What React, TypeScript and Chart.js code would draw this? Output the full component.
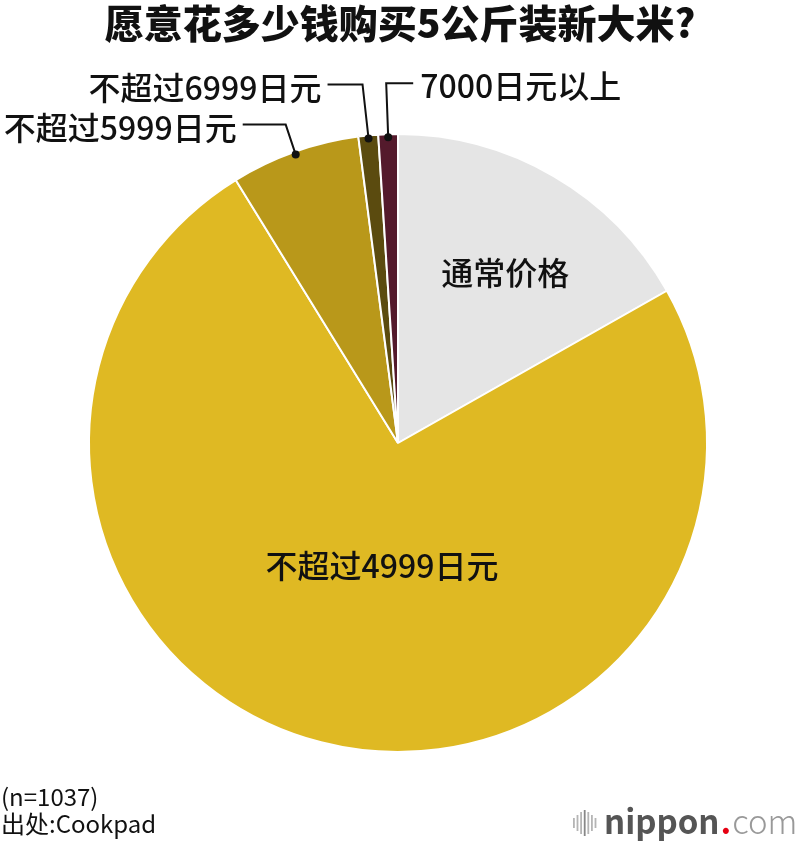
import { useEffect, useRef } from "react";
import { Chart, registerables } from "chart.js";

Chart.register(...registerables);

const titleText = "愿意花多少钱购买5公斤装新大米?";
const categories = ["通常价格", "不超过4999日元", "不超过5999日元", "不超过6999日元", "7000日元以上"];
const shares = [16.8, 74.4, 6.75, 1.03, 1.02];
const sampleNote = "(n=1037)";
const sourceNote = "出处:Cookpad";

const sliceColors = ["#e5e5e5", "#dfb923", "#b9981a", "#5b4b0f", "#541a2c"];
const FONT = '"Noto Sans CJK SC", "Noto Sans", sans-serif';

// label layout: inside labels (radius fraction + angle offset) or callouts (elbow offset, line length)
const labelLayout: any[] = [
  { type: "inside", rf: 0.65, da: 2 },
  { type: "inside", rf: 0.4, da: -7 },
  { type: "callout", ex: -10, ey: -30, len: 43, side: "left" },
  { type: "callout", ex: -6, ey: -54, len: 35, side: "left" },
  { type: "callout", ex: -2, ey: -54, len: 27, side: "right" },
];

const labelPlugin = {
  id: "labels",
  afterDraw(chart: any) {
    const ctx = chart.ctx as CanvasRenderingContext2D;
    const meta = chart.getDatasetMeta(0);
    ctx.save();
    // title
    ctx.fillStyle = "#111";
    ctx.font = `900 39px ${FONT}`;
    ctx.textAlign = "center";
    ctx.textBaseline = "middle";
    ctx.fillText(titleText, 400, 23);

    meta.data.forEach((arc: any, i: number) => {
      const p = arc.getProps(["x", "y", "startAngle", "endAngle", "outerRadius"], true);
      const mid = (p.startAngle + p.endAngle) / 2;
      const lay = labelLayout[i];
      ctx.fillStyle = "#111";
      ctx.strokeStyle = "#111";
      ctx.font = `500 32px ${FONT}`;
      ctx.textBaseline = "middle";
      if (lay.type === "inside") {
        const a = mid + (lay.da * Math.PI) / 180;
        const r = p.outerRadius * lay.rf;
        ctx.textAlign = "center";
        ctx.fillText(categories[i], p.x + Math.cos(a) * r, p.y + Math.sin(a) * r);
      } else {
        const r = p.outerRadius - 3;
        const dx = p.x + Math.cos(mid) * r;
        const dy = p.y + Math.sin(mid) * r;
        const exx = dx + lay.ex;
        const eyy = dy + lay.ey;
        const hx = lay.side === "left" ? exx - lay.len : exx + lay.len;
        ctx.lineWidth = 2;
        ctx.beginPath();
        ctx.moveTo(dx, dy);
        ctx.lineTo(exx, eyy);
        ctx.lineTo(hx, eyy);
        ctx.stroke();
        ctx.beginPath();
        ctx.arc(dx, dy, 4, 0, Math.PI * 2);
        ctx.fill();
        ctx.textAlign = lay.side === "left" ? "right" : "left";
        ctx.fillText(categories[i], lay.side === "left" ? hx - 6 : hx + 7, eyy + 3);
      }
    });

    // footer notes
    ctx.fillStyle = "#111";
    ctx.font = `24px ${FONT}`;
    ctx.textAlign = "left";
    ctx.textBaseline = "middle";
    ctx.fillText(sampleNote, 1, 797);
    ctx.fillText(sourceNote, 1, 824);

    // logo
    const bars = [10, 16, 22, 26, 22, 16, 10];
    bars.forEach((h, k) => {
      ctx.fillStyle = k === 3 ? "#888" : "#b5b5b5";
      ctx.fillRect(573 + k * 3.6, 823 - h / 2, 1.8, h);
    });
    ctx.textBaseline = "alphabetic";
    ctx.font = `bold 33px ${FONT}`;
    ctx.fillStyle = "#555";
    ctx.fillText("nippon", 604, 834);
    const w1 = ctx.measureText("nippon").width;
    ctx.fillStyle = "#e60012";
    ctx.fillText(".", 604 + w1 + 1, 834);
    const w2 = ctx.measureText(".").width;
    ctx.font = `300 33px ${FONT}`;
    ctx.fillStyle = "#999";
    ctx.fillText("com", 604 + w1 + w2 + 2, 834);
    ctx.restore();
  },
};

export default function App() {
  const ref = useRef<HTMLCanvasElement>(null);
  useEffect(() => {
    if (!ref.current) return;
    const chart = new Chart(ref.current, {
      type: "pie",
      data: {
        labels: categories,
        datasets: [
          {
            data: shares,
            backgroundColor: sliceColors,
            borderColor: "#ffffff",
            borderWidth: 2,
          },
        ],
      },
      options: {
        responsive: false,
        animation: false,
        layout: { padding: { left: 88, right: 92, top: 133, bottom: 93 } },
        plugins: {
          legend: { display: false },
          tooltip: { enabled: false },
          title: { display: false },
        },
      },
      plugins: [labelPlugin],
    });
    return () => chart.destroy();
  }, []);
  return (
    <div style={{ position: "absolute", left: 0, top: 0, width: 800, height: 846, background: "#fff" }}>
      <canvas ref={ref} width={800} height={846} />
    </div>
  );
}
